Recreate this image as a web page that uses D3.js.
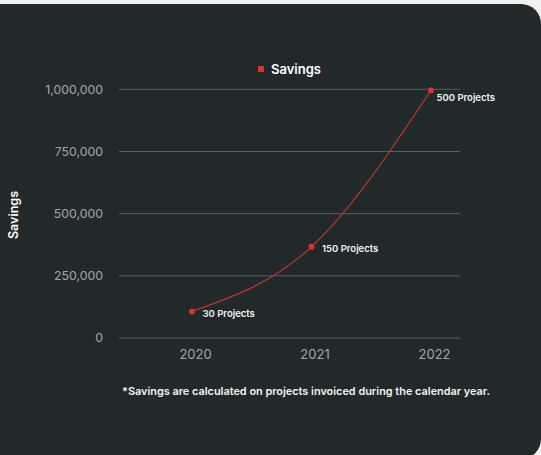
<!DOCTYPE html>
<html><head><meta charset="utf-8">
<script src="https://cdn.jsdelivr.net/npm/d3@7"></script>
<style>
html,body{margin:0;padding:0;background:#f1f1f1;overflow:hidden}
svg{display:block;font-family:Inter,"Noto Sans",sans-serif}
</style></head>
<body>
<svg id="chart" width="541" height="455"></svg>
<script>
const years = [2020, 2021, 2022];
const savings = [107000, 367000, 996000];
const projectLabels = ["30 Projects", "150 Projects", "500 Projects"];
const yTicks = [0, 250000, 500000, 750000, 1000000];
const seriesName = "Savings";
const yTitle = "Savings";
const footnote = "*Savings are calculated on projects invoiced during the calendar year.";

const svg = d3.select("#chart");
svg.append("rect").attr("x", -30).attr("y", 4).attr("width", 571).attr("height", 455)
  .attr("rx", 20).attr("fill", "#22292b");

const gridX0 = 119, gridX1 = 460;
const x = d3.scaleLinear().domain([2020, 2022]).range([192, 431]);
const y = d3.scaleLinear().domain([0, 1000000]).range([338, 89.3]);

// grid
svg.append("g").selectAll("line").data(yTicks).join("line")
  .attr("x1", gridX0).attr("x2", gridX1)
  .attr("y1", d => y(d)).attr("y2", d => y(d))
  .attr("stroke", "#5a6062").attr("stroke-width", 1);

// y axis labels
const yAxis = svg.append("g").attr("transform", "translate(103,0)")
  .call(d3.axisLeft(y).tickValues(yTicks).tickSize(0).tickPadding(0).tickFormat(d3.format(",")));
yAxis.select(".domain").remove();
yAxis.selectAll("text").attr("fill", "#a3a6a7").attr("font-size", 12.3).attr("font-family", "Inter,sans-serif");

// x axis labels
const xAxis = svg.append("g").attr("transform", "translate(3,350)")
  .call(d3.axisBottom(x).tickValues(years).tickSize(0).tickPadding(0).tickFormat(d3.format("d")));
xAxis.select(".domain").remove();
xAxis.selectAll("text").attr("fill", "#a3a6a7").attr("font-size", 13).attr("font-family", "Inter,sans-serif");

// y title
svg.append("text").attr("transform", "translate(18,215) rotate(-90)")
  .attr("text-anchor", "middle").attr("fill", "#ffffff").attr("font-size", 12.5)
  .attr("font-weight", 600).text(yTitle);

// legend
svg.append("rect").attr("x", 258).attr("y", 66).attr("width", 6).attr("height", 6).attr("fill", "#d8352a");
svg.append("text").attr("x", 271).attr("y", 69).attr("dy", "0.35em")
  .attr("fill", "#ffffff").attr("font-size", 13).attr("font-weight", 600).text(seriesName);

const data = years.map((yr, i) => ({yr, v: savings[i], label: projectLabels[i]}));

// line
svg.append("path").datum(data)
  .attr("d", d3.line().x(d => x(d.yr)).y(d => y(d.v)).curve(d3.curveMonotoneX))
  .attr("fill", "none").attr("stroke", "#c1302a").attr("stroke-width", 1.2);

svg.append("g").selectAll("circle").data(data).join("circle")
  .attr("cx", d => x(d.yr)).attr("cy", d => y(d.v)).attr("r", 3)
  .attr("fill", "#d8352a");

svg.append("g").selectAll("text").data(data).join("text")
  .attr("x", (d, i) => x(d.yr) + (i === data.length - 1 ? 5.5 : 10.5))
  .attr("y", (d, i) => y(d.v) + (i === data.length - 1 ? 7.5 : 2))
  .attr("dy", "0.35em")
  .attr("fill", "#f2f2f2").attr("font-size", 9.5).attr("font-weight", 600)
  .text(d => d.label);

// footnote
svg.append("text").attr("x", 306).attr("y", 391.5).attr("dy", "0.35em")
  .attr("text-anchor", "middle").attr("fill", "#f2f2f2").attr("font-size", 10.9)
  .attr("font-weight", 600).text(footnote);
</script>
</body></html>
